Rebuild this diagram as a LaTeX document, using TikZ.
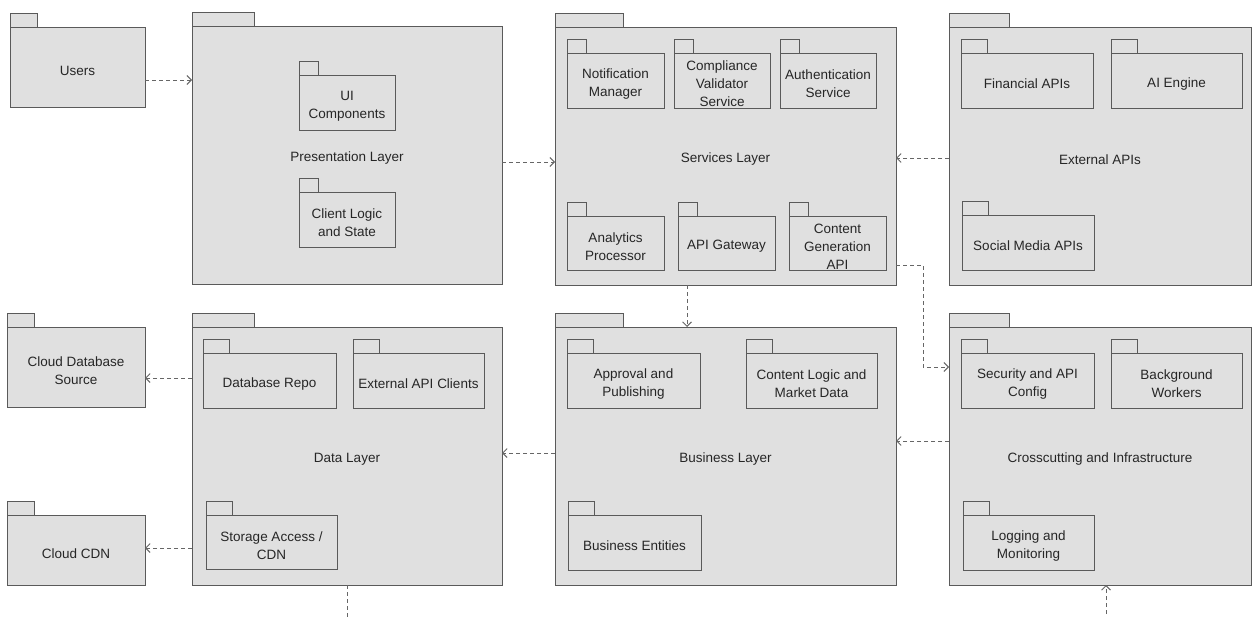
\documentclass[tikz,border=0pt]{standalone}
\usepackage{fontspec}
\setmainfont{Liberation Sans}
\usetikzlibrary{arrows.meta}

\definecolor{pkgfill}{HTML}{E0E0E0}
\definecolor{pkgline}{HTML}{5A5A5A}
\definecolor{deplin}{HTML}{666666}
\definecolor{txt}{HTML}{262626}

\tikzset{
  pkg/.style={draw=pkgline, fill=pkgfill, line width=1pt, inner sep=0pt,
    outer sep=0pt},
  pkgtext/.style={align=center, text=txt, inner sep=0pt, yshift=-3.5pt,
    font=\fontsize{13.5}{18}\selectfont},
  pkgtab/.style={draw=pkgline, fill=pkgfill, line width=1pt},
  dep/.style={draw=deplin, line width=0.9pt, dash pattern=on 4pt off 3pt,
    -{Straight Barb[length=4.5pt,width=9pt]}},
}

% UML package: name, left, top, right, bottom, label
\newcommand\umlpkg[6]{%
  \node[pkg, minimum width={(#4-#2)*1pt}, minimum height={(#5-#3)*1pt},
    label={[pkgtext]center:{#6}}]
    (#1) at ({(#2+#4)/2},{(#3+#5)/2}) {};
  \draw[pkgtab] (#1.north west) rectangle ++({0.2*(#4-#2)},-14);
}

\begin{document}
\begin{tikzpicture}[x=1pt, y=-1pt]
\useasboundingbox (0,0) rectangle (1260,616);
\clip (0,0) rectangle (1260,616);

% left column
\umlpkg{users}{10}{27}{145}{107}{Users}
\umlpkg{clouddb}{7}{327}{145}{407}{Cloud Database\\Source}
\umlpkg{cdn}{7}{515}{145}{585}{Cloud CDN}

% presentation layer
\umlpkg{pres}{192}{26}{502}{284}{Presentation Layer}
\umlpkg{ui}{299}{75}{395}{130}{UI\\Components}
\umlpkg{client}{299}{192}{395}{247}{Client Logic\\and State}

% services layer
\umlpkg{serv}{555}{27}{896}{285}{Services Layer}
\umlpkg{notif}{567}{53}{664}{108}{Notification\\Manager}
\umlpkg{compl}{674}{53}{770}{108}{Compliance\\Validator\\Service}
\umlpkg{auth}{780}{53}{876}{108}{Authentication\\Service}
\umlpkg{analytics}{567}{216}{664}{270}{Analytics\\Processor}
\umlpkg{gateway}{678}{216}{775}{270}{API Gateway}
\umlpkg{cga}{789}{216}{886}{270}{Content\\Generation\\API}

% external APIs
\umlpkg{ext}{949}{27}{1251}{285}{External APIs}
\umlpkg{fin}{961}{53}{1093}{108}{Financial APIs}
\umlpkg{ai}{1111}{53}{1242}{108}{AI Engine}
\umlpkg{social}{962}{215}{1094}{270}{Social Media APIs}

% data layer
\umlpkg{data}{192}{327}{502}{585}{Data Layer}
\umlpkg{dbrepo}{203}{353}{336}{408}{Database Repo}
\umlpkg{extcli}{353}{353}{484}{408}{External API Clients}
\umlpkg{storage}{206}{515}{337}{569}{Storage Access /\\CDN}

% business layer
\umlpkg{bus}{555}{327}{896}{585}{Business Layer}
\umlpkg{approval}{567}{353}{700}{408}{Approval and\\Publishing}
\umlpkg{logic}{746}{353}{877}{408}{Content Logic and\\Market Data}
\umlpkg{entities}{568}{515}{701}{570}{Business Entities}

% crosscutting
\umlpkg{cross}{949}{327}{1251}{585}{Crosscutting and Infrastructure}
\umlpkg{security}{961}{353}{1094}{408}{Security and API\\Config}
\umlpkg{workers}{1111}{353}{1242}{408}{Background\\Workers}
\umlpkg{logging}{963}{515}{1094}{570}{Logging and\\Monitoring}

% dependencies
\draw[dep] (users.east |- 0,80) -- (pres.west |- 0,80);
\draw[dep] (pres.east |- 0,162) -- (serv.west |- 0,162);
\draw[dep] (ext.west |- 0,158) -- (serv.east |- 0,158);
\draw[dep] (serv.south -| 687,0) -- (bus.north -| 687,0);
\coordinate (turn) at (923,367);
\draw[dep] (serv.east |- 0,265) -| (turn) -- (cross.west |- turn);
\draw[dep] (cross.west |- 0,441) -- (bus.east |- 0,441);
\draw[dep] (bus.west |- 0,453) -- (data.east |- 0,453);
\draw[dep] (data.west |- 0,378) -- (clouddb.east |- 0,378);
\draw[dep] (data.west |- 0,548) -- (cdn.east |- 0,548);
\coordinate (below) at (0,640);
\draw[dep] (data.south |- 0,585) -- (data.south |- below) -- (1106,640)
  -- (cross.south -| 1106,0);
\end{tikzpicture}
\end{document}
